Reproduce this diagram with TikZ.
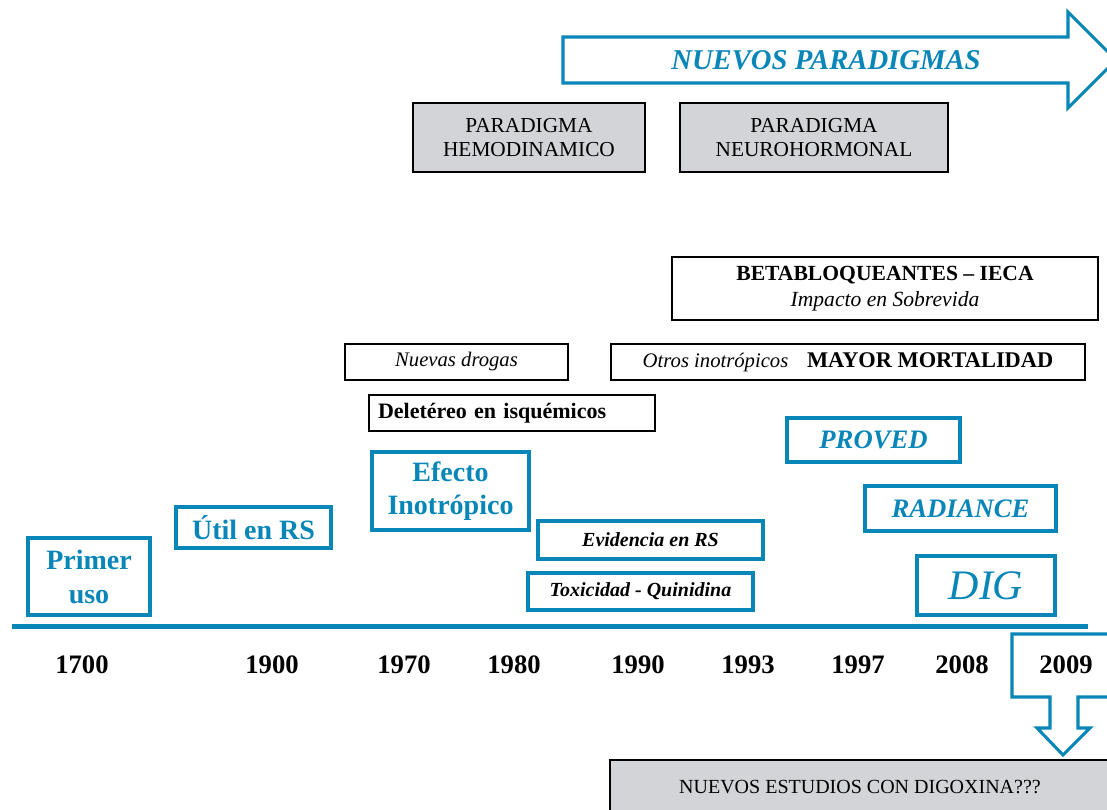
\documentclass[tikz,border=0pt]{standalone}
\usepackage{fontspec}
\setmainfont{Liberation Serif}
\definecolor{cblue}{RGB}{8,134,184}
\definecolor{cgray}{RGB}{211,212,216}
\newcommand\fsz[2]{\fontsize{#1}{#2}\selectfont}
\tikzset{
  bluebox/.style={draw=cblue, line width=3.3pt, inner sep=0pt, align=center, text=cblue},
  bluethin/.style={draw=cblue, line width=2.4pt, inner sep=0pt, align=center},
  graybox/.style={draw=black, fill=cgray, line width=2pt, inner sep=0pt, align=center},
  thinbox/.style={draw=black, line width=0.8pt, inner sep=0pt, align=center},
  thickbox/.style={draw=black, line width=2.2pt, inner sep=0pt, align=center},
  year/.style={font=\bfseries\fsz{20}{24}, inner sep=0pt},
  bigarrow/.style={draw=cblue, line width=2.3pt, fill=white, line join=miter},
}
\begin{document}
\begin{tikzpicture}[x=0.75pt,y=-0.75pt]
\clip (0,0) rectangle (1107,810);
\fill[white] (0,0) rectangle (1107,810);

% NUEVOS PARADIGMAS arrow
\draw[bigarrow] (563,37) -- (1068,37) -- (1068,12) -- (1116,60) -- (1068,108) -- (1068,83) -- (563,83) -- cycle;
\node[text=cblue, font=\bfseries\itshape\fsz{21.5}{24}] (np) at (826,60) {NUEVOS PARADIGMAS};

% paradigm boxes
\node[graybox, minimum width=174pt, minimum height=51.75pt, font=\fsz{16}{18}] (hemo) at (529,137.5) {PARADIGMA\\HEMODINAMICO};
\node[graybox, minimum width=201pt, minimum height=51.75pt, font=\fsz{16}{18}] (neuro) at (814,137.5) {PARADIGMA\\NEUROHORMONAL};

% beta
\node[thickbox, minimum width=319.5pt, minimum height=47.25pt, font=\fsz{16.2}{19}] (beta) at (885,288.5) {\textbf{BETABLOQUEANTES -- IECA}\\\textit{Impacto en Sobrevida}};

% nuevas drogas / otros
\node[thinbox, minimum width=167.25pt, minimum height=27pt, font=\itshape\fsz{15.5}{18}] (nuevas) at (456.5,362) {Nuevas drogas};
\node[thinbox, minimum width=355.5pt, minimum height=27pt, font=\fsz{15.5}{18}] (otros) at (848,362) {\textit{Otros inotrópicos}\hspace{14pt}\textbf{\fsz{16.8}{18}MAYOR MORTALIDAD}};
\node[thinbox, minimum width=214.5pt, minimum height=27pt, text width=201pt, align=left, font=\bfseries\fsz{16.5}{18}] (delet) at (512,413) {Deletéreo en isquémicos};

% trials
\node[bluethin, minimum width=129.75pt, minimum height=33pt, text=cblue, font=\bfseries\itshape\fsz{20}{24}] (proved) at (873.5,440) {PROVED};
\node[bluethin, minimum width=143.25pt, minimum height=33.75pt, text=cblue, font=\bfseries\itshape\fsz{20}{24}] (radiance) at (960.5,508.5) {RADIANCE};
\node[bluethin, line width=2.7pt, minimum width=103.5pt, minimum height=44.25pt, text=cblue, font=\itshape\fsz{31.5}{36}] (dig) at (986,585.5) {DIG};

% blue history boxes
\node[bluebox, minimum width=91.5pt, minimum height=57.75pt, font=\bfseries\fsz{21}{25.5}] (primer) at (89,576.5) {Primer\\uso};
\node[bluebox, minimum width=116.25pt, minimum height=30.75pt, font=\bfseries\fsz{21}{25}] (util) at (253.5,527.5) {Útil en RS};
\node[bluebox, minimum width=117.75pt, minimum height=58.5pt, font=\bfseries\fsz{21}{25}] (efecto) at (450.5,491) {Efecto\\Inotrópico};
\node[bluethin, minimum width=168.75pt, minimum height=28.5pt, font=\bfseries\itshape\fsz{15}{18}] (evid) at (650.5,540) {Evidencia en RS};
\node[bluethin, minimum width=168.75pt, minimum height=27.75pt, font=\bfseries\itshape\fsz{15}{18}] (toxic) at (640.5,591.5) {Toxicidad - Quinidina};

% timeline
\coordinate (tl0) at (12,626);
\coordinate (tl1) at (1088,626);
\draw[cblue, line width=3.75pt] (tl0) -- (tl1);

% callout down arrow
\draw[bigarrow] (1012,634) -- (1116,634) -- (1116,697) -- (1078,697) -- (1078,728) -- (1090,728) -- (1063,755) -- (1037,728) -- (1050,728) -- (1050,697) -- (1012,697) -- cycle;

% years
\node[year] (y1700) at (82,665) {1700};
\node[year] (y1900) at (272,665) {1900};
\node[year] (y1970) at (404,665) {1970};
\node[year] (y1980) at (514,665) {1980};
\node[year] (y1990) at (638,665) {1990};
\node[year] (y1993) at (748,665) {1993};
\node[year] (y1997) at (858,665) {1997};
\node[year] (y2008) at (962,665) {2008};
\node[year] (y2009) at (1066,665) {2009};

% new studies
\node[graybox, minimum width=375pt, minimum height=41.25pt, font=\fsz{15}{18}] (nuevos) at (860,787.5) {NUEVOS ESTUDIOS CON DIGOXINA???};
\end{tikzpicture}
\end{document}
